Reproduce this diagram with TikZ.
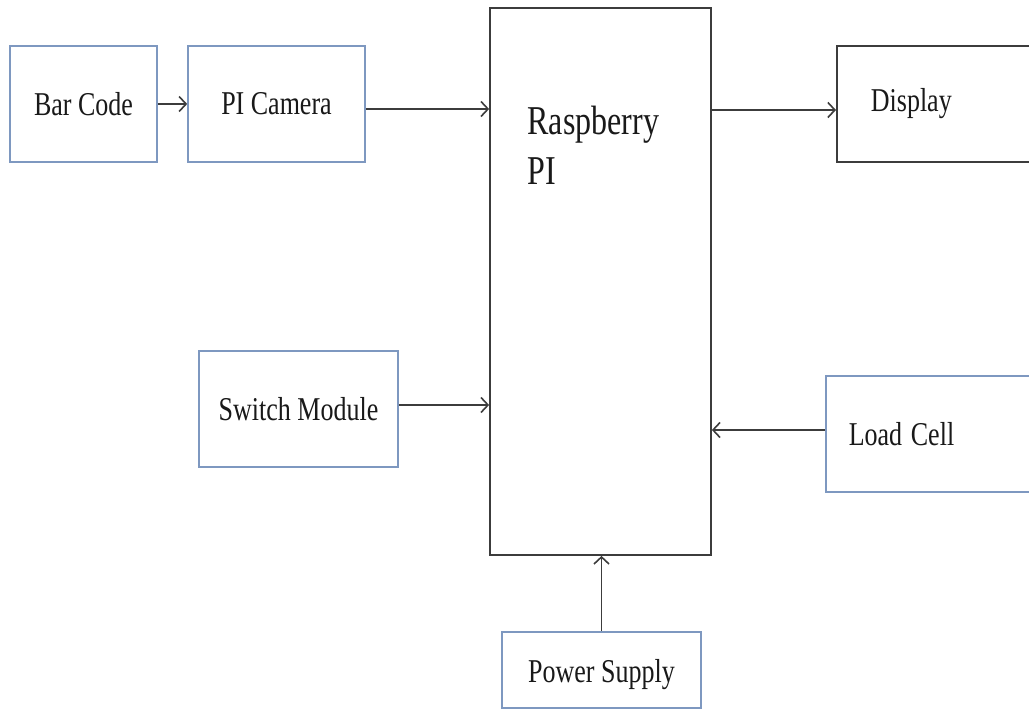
\documentclass[tikz,border=0pt]{standalone}
\usepackage{fontspec}
\setmainfont{Liberation Serif}
\usetikzlibrary{arrows.meta}

\definecolor{boxblue}{RGB}{126,152,192}
\definecolor{linegray}{RGB}{60,60,60}
% the printed letters are drawn a little taller than they are wide
\newcommand{\tallword}[1]{\scalebox{1}[1.28]{#1}}

\begin{document}
\begin{tikzpicture}[x=1pt, y=-1pt,
		bluebox/.style={draw=boxblue, line width=1.6pt, minimum height=116pt, inner sep=0pt, text=black!90, font=\fontsize{26}{30}\selectfont},
		darkbox/.style={draw=linegray, line width=1.8pt, inner sep=0pt, text=black!90},
		link/.style={-{Straight Barb[length=7pt, width=15pt, line width=1.6pt]}, draw=linegray, line width=1.8pt}]
		\clip (0, 0) rectangle (1029, 711);
		\fill [white] (0, 0) rectangle (1029, 711);

		% left column
		\node [bluebox, minimum width=147pt] (barcode) at (83.5, 104) {\tallword{Bar Code}};
		\node [bluebox, minimum width=177pt] (camera) at (276.5, 104) {\tallword{PI Camera}};
		\node [bluebox, minimum width=199pt] (switch) at (298.5, 409) {\tallword{Switch Module}};

		% the controller
		\node [darkbox, minimum width=221pt, minimum height=547pt] (rpi) at (600.5, 281.5) {};
		\node [anchor=base west, align=left, text=black!90, font=\fontsize{32}{50}\selectfont] (rpilabel) at (524, 185) {\tallword{Raspberry}\\\tallword{PI}};

		% right column, cut by the page edge
		\node [darkbox, anchor=west, minimum height=116pt, text width=170pt, inner xsep=34pt, align=left, font=\fontsize{26}{30}\selectfont] (display) at (836, 104) {\tallword{Display}};
		\node [bluebox, anchor=west, text width=190pt, inner xsep=23pt, align=left] (loadcell) at (825, 434) {\tallword{Load Cell}};

		% bottom
		\node [bluebox, minimum width=199pt, minimum height=76pt, text height=24pt, text depth=0pt] (power) at (601.5, 670) {\tallword{Power Supply}};

		% connectors
		\draw [link] (barcode) -- (camera);
		\coordinate (camout) at ([yshift=-5pt]camera.east);
		\draw [link] (camout) -- (camout -| rpi.west);
		\coordinate (dispin) at ([yshift=-6pt]display.west);
		\draw [link] (dispin -| rpi.east) -- (dispin);
		\coordinate (swout) at ([yshift=4pt]switch.east);
		\draw [link] (swout) -- (swout -| rpi.west);
		\coordinate (cellout) at ([yshift=4pt]loadcell.west);
		\draw [link] (cellout) -- (cellout -| rpi.east);
		\draw [link] (power.north) -- (power.north |- rpi.south);
	\end{tikzpicture}
\end{document}
